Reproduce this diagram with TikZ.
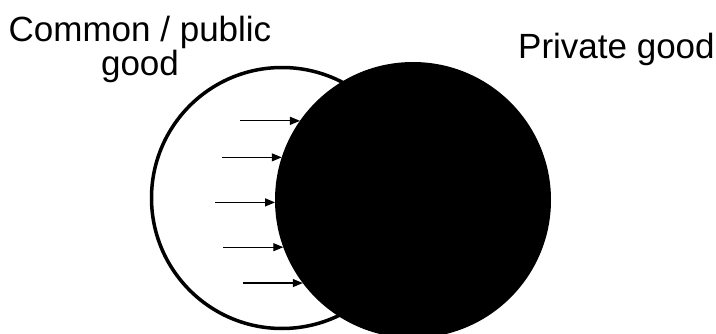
\documentclass[tikz,border=0pt]{standalone}
\usepackage{fontspec}
\setmainfont{Liberation Sans}
\usepackage{tikz}
\usetikzlibrary{arrows.meta, calc}

\begin{document}
\begin{tikzpicture}[%
  x=1pt, y=1pt,
  lbl/.style={font=\fontsize{35}{31}\selectfont, inner sep=0pt, align=center},
  ring/.style={draw, circle, line width=3.5pt, fill=white, minimum size=261pt, inner sep=0pt},
  blob/.style={circle, fill=black, minimum size=276pt, inner sep=0pt, outer sep=0pt},
  arr/.style={-{Triangle[length=10pt, width=8pt]}, line width=1.2pt}
]
\useasboundingbox (0,0) rectangle (716,333);

% Circles
\node[ring] (pub) at (282,135) {};
\node[blob] (priv) at (413,133) {};

% Arrows pushing into the private good
\foreach \a [count=\i] in {145.6, 162.3, 181, 200.3, 217}{
  \coordinate (s\i) at ($(priv.\a)+(-60,0)$);
  \draw[arr] (s\i) -- (priv.\a);
}

% Labels
\node[lbl, anchor=north] (publbl) at (140,317) {Common / public\\good};
\node[lbl, anchor=base west] (privlbl) at (518,275) {Private good};
\end{tikzpicture}
\end{document}
